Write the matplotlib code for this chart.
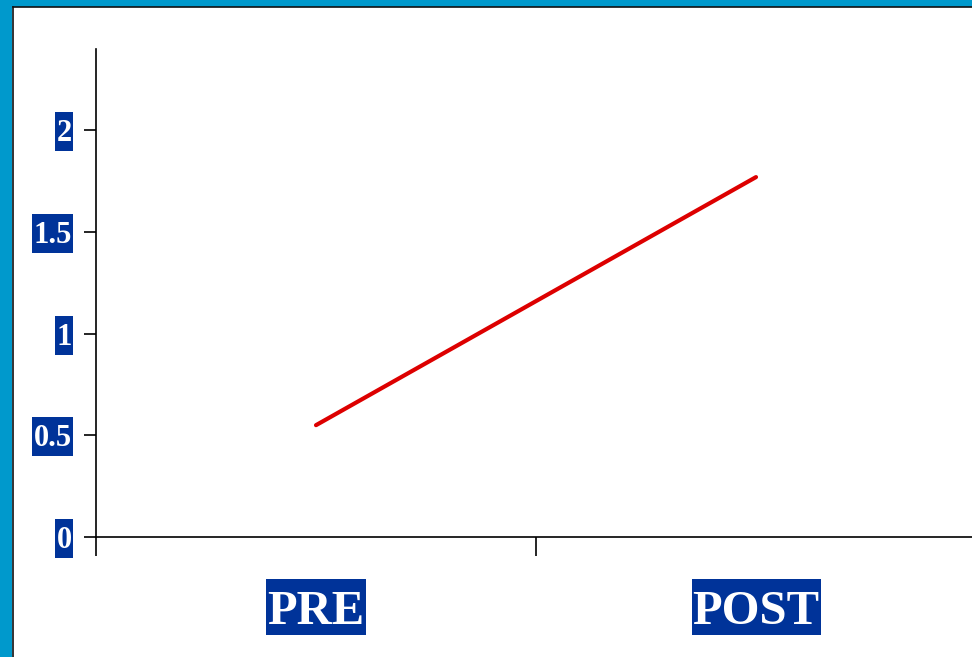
import matplotlib
matplotlib.use("Agg")
import matplotlib.pyplot as plt
from matplotlib.patches import Rectangle
from matplotlib.lines import Line2D

# Data
phases = ["PRE", "POST"]
scores = [0.55, 1.77]
y_ticks = [0, 0.5, 1, 1.5, 2]
y_tick_labels = ["0", "0.5", "1", "1.5", "2"]

BORDER = "#0099CC"
LABEL_BG = "#003399"
LINE_RED = "#DD0000"

W, H = 972, 657
fig = plt.figure(figsize=(W / 100, H / 100), dpi=100)
fig.patch.set_facecolor("white")

# Slide-style frame: blue band on the left and top with a dark inner edge
fig.patches.append(Rectangle((0, 0), 12 / W, 1, transform=fig.transFigure,
                             facecolor=BORDER, edgecolor="none", zorder=0))
fig.patches.append(Rectangle((0, 1 - 6.5 / H), 1, 6.5 / H, transform=fig.transFigure,
                             facecolor=BORDER, edgecolor="none", zorder=0))
fig.lines.append(Line2D([12.5 / W, 12.5 / W], [0, 1 - 6.5 / H], transform=fig.transFigure,
                        color="#111111", lw=1.2))
fig.lines.append(Line2D([12.5 / W, 1], [1 - 7 / H, 1 - 7 / H], transform=fig.transFigure,
                        color="#111111", lw=1.2))

# Axes placed so x runs 0..2 with categories centred at 0.5 and 1.5
left, bottom = 96 / W, 120 / H
width, height = 880 / W, 488 / H
ax = fig.add_axes([left, bottom, width, height])
ax.set_facecolor("none")

x_pos = [i + 0.5 for i in range(len(phases))]
ax.plot(x_pos, scores, color=LINE_RED, lw=3, solid_capstyle="round", clip_on=False)

ax.set_xlim(0, 2)
ax.set_ylim(0, 2.4)

for s in ["top", "right"]:
    ax.spines[s].set_visible(False)
for s in ["left", "bottom"]:
    ax.spines[s].set_linewidth(1.2)
    ax.spines[s].set_color("black")

label_font = dict(family="Liberation Serif", weight="bold", color="white")

# y axis
ax.set_yticks(y_ticks)
ax.set_yticklabels(y_tick_labels, fontsize=22, **label_font)
ax.tick_params(axis="y", direction="out", length=9, width=1.2, pad=8.5)

# x axis: dividers as major ticks, category names as minor tick labels
ax.set_xticks([0, 1, 2])
ax.set_xticklabels([])
ax.tick_params(axis="x", which="major", direction="out", length=14, width=1.2)
ax.set_xticks(x_pos, minor=True)
ax.set_xticklabels(phases, minor=True, fontsize=35, **label_font)
ax.tick_params(axis="x", which="minor", length=0, pad=38)

# Solid label backgrounds with separate horizontal / vertical padding (pixels)
fig.canvas.draw()
renderer = fig.canvas.get_renderer()


def add_backdrop(label, side, top, bottom_pad):
    bb = label.get_window_extent(renderer)
    rect = Rectangle((bb.x0 - side, bb.y0 - bottom_pad),
                     bb.width + 2 * side, bb.height + top + bottom_pad,
                     transform=None, facecolor=LABEL_BG, edgecolor="none", zorder=-1)
    fig.patches.append(rect)


for t in ax.get_yticklabels():
    add_backdrop(t, 1.5, 7, 3)
for t in ax.get_xticklabels(minor=True):
    add_backdrop(t, 1, 11, 1)

fig.savefig("out.png", dpi=100)
